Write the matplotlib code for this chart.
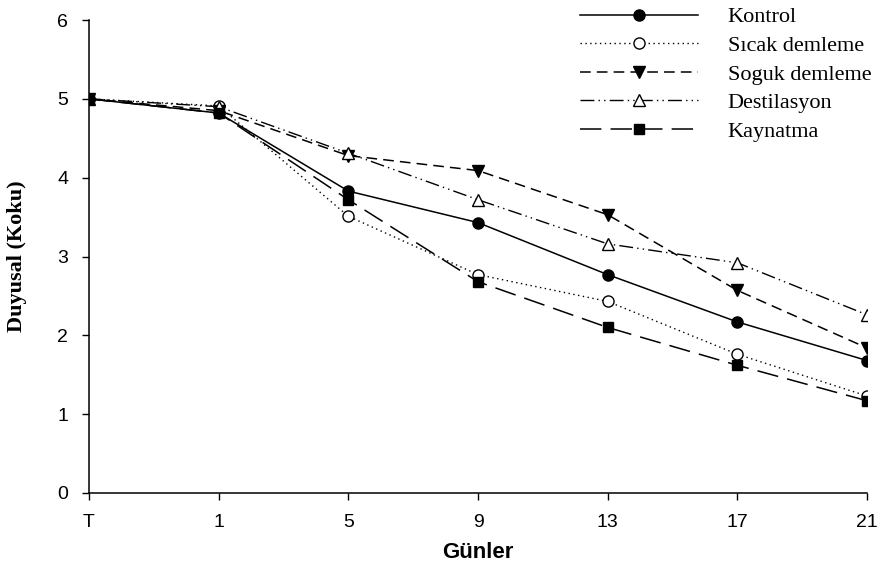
import numpy as np
import matplotlib.pyplot as plt

# Days (category labels) and sensory odor scores
days = ["T", "1", "5", "9", "13", "17", "21"]
kontrol = [5.0, 4.82, 3.83, 3.43, 2.77, 2.17, 1.68]
sicak = [5.0, 4.91, 3.51, 2.77, 2.43, 1.76, 1.23]
soguk = [5.0, 4.85, 4.28, 4.09, 3.53, 2.57, 1.84]
destilasyon = [5.0, 4.90, 4.31, 3.72, 3.16, 2.92, 2.26]
kaynatma = [5.0, 4.82, 3.72, 2.68, 2.10, 1.62, 1.17]

x = np.arange(len(days))

fig = plt.figure(figsize=(8.91, 5.77), dpi=100)
ax = fig.add_axes([0.0999, 0.1456, 0.8732, 0.8197])

ms = 8
ax.plot(x, kontrol, color="black", lw=1.1, linestyle="-", marker="o",
        ms=ms, mfc="black", mec="black", label="Kontrol")
ax.plot(x, sicak, color="black", lw=1.0, linestyle=(0, (1, 2.5)), marker="o",
        ms=ms, mfc="white", mec="black", label="Sıcak demleme")
ax.plot(x, soguk, color="black", lw=1.1, linestyle=(0, (7, 4)), marker="v",
        ms=ms + 1, mfc="black", mec="black", label="Soguk demleme")
ax.plot(x, destilasyon, color="black", lw=1.0, linestyle=(0, (10, 3, 1, 3, 1, 3)),
        marker="^", ms=ms + 1, mfc="white", mec="black", label="Destilasyon")
ax.plot(x, kaynatma, color="black", lw=1.1, linestyle=(0, (14, 6)), marker="s",
        ms=ms - 0.5, mfc="black", mec="black", label="Kaynatma")

ax.set_xlim(0, len(days) - 1)
ax.set_ylim(0, 6)
ax.set_xticks(x)
ax.set_xticklabels(days, fontsize=14, family="Liberation Sans")
ax.set_yticks(range(0, 7))
ax.set_yticklabels([str(v) for v in range(0, 7)], fontsize=14, family="Liberation Sans")
ax.tick_params(direction="out", length=5, width=1, pad=10)

for s in ["top", "right"]:
    ax.spines[s].set_visible(False)
for s in ["left", "bottom"]:
    ax.spines[s].set_linewidth(1.1)

ax.set_xlabel("Günler", fontsize=16, fontweight="bold", family="Liberation Sans", labelpad=8)
ax.set_ylabel("Duyusal (Koku)", fontsize=16, fontweight="bold", family="Liberation Serif", labelpad=22)

leg = fig.legend(loc="upper left", bbox_to_anchor=(0.651, 0.988), frameon=False,
                 prop={"family": "Liberation Serif", "size": 16},
                 handlelength=5.3, handletextpad=1.35, labelspacing=0.36,
                 borderpad=0, borderaxespad=0)

fig.savefig("out.png", dpi=100)
